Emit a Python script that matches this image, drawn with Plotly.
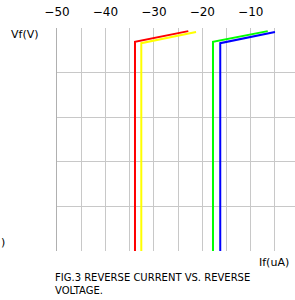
import plotly.graph_objects as go

# data (x: If(uA), y: Vf(V))
red_x = [-33.9, -33.9, -22.9]
red_y = [0.0, 4.69, 4.93]
yellow_x = [-32.6, -32.6, -21.3]
yellow_y = [0.0, 4.66, 4.91]
green_x = [-17.8, -17.8, -6.5]
green_y = [0.0, 4.69, 4.93]
blue_x = [-16.3, -16.3, -5.0]
blue_y = [0.0, 4.66, 4.91]

tick_vals = [-50, -40, -30, -20, -10]
tick_text = ["\u221250", "\u221240", "\u221230", "\u221220", "\u221210"]

FONT = "DejaVu Sans"

fig = go.Figure()
for xs, ys, col in [(red_x, red_y, "#ff0000"), (yellow_x, yellow_y, "#ffff00"),
                    (green_x, green_y, "#00ff00"), (blue_x, blue_y, "#0000ff")]:
    fig.add_trace(go.Scatter(x=xs, y=ys, mode="lines",
                             line=dict(color=col, width=2), showlegend=False,
                             hoverinfo="skip"))

fig.update_layout(
    width=295, height=300,
    margin=dict(l=57, r=0, t=28, b=49, autoexpand=False),
    paper_bgcolor="white", plot_bgcolor="white",
    font=dict(family=FONT, size=12, color="black"),
    xaxis=dict(side="top", range=[-50, -0.87], tickvals=tick_vals, ticktext=tick_text,
               showgrid=True, gridcolor="#c8c8c8", gridwidth=1,
               minor=dict(dtick=5, tick0=0, showgrid=True, gridcolor="#c8c8c8", gridwidth=1),
               zeroline=False, showline=False, ticks="", tickfont=dict(size=12),
               ticklabelstandoff=9, automargin=False),
    yaxis=dict(range=[0, 5], dtick=1, showticklabels=False, showgrid=True,
               gridcolor="#c8c8c8", gridwidth=1, zeroline=False,
               showline=True, linecolor="#b0b0b0", linewidth=1, ticks="",
               automargin=False),
    annotations=[
        dict(text="Vf(V)", xref="paper", yref="paper", x=-0.134, y=0.969,
             xanchor="center", yanchor="middle", showarrow=False, font=dict(size=11)),
        dict(text="If(uA)", xref="paper", yref="paper", x=0.985, y=-0.05,
             xanchor="right", yanchor="middle", showarrow=False, font=dict(size=11)),
        dict(text="0", xref="paper", yref="paper", x=1.017, y=1.0, yshift=18,
             xanchor="center", yanchor="middle", showarrow=False, font=dict(size=12)),
        dict(text=")", xref="paper", yref="paper", x=-0.225, y=0.04,
             xanchor="center", yanchor="middle", showarrow=False, font=dict(size=11)),
        dict(text="FIG.3 REVERSE CURRENT VS. REVERSE<br>VOLTAGE.", xref="paper", yref="paper",
             x=-0.017, y=-0.149, xanchor="left", yanchor="middle", align="left",
             showarrow=False, font=dict(size=10)),
    ],
)

fig.write_html("out.html", config={"displayModeBar": False},
               post_script="document.body.style.margin='0';document.body.style.padding='0';")
